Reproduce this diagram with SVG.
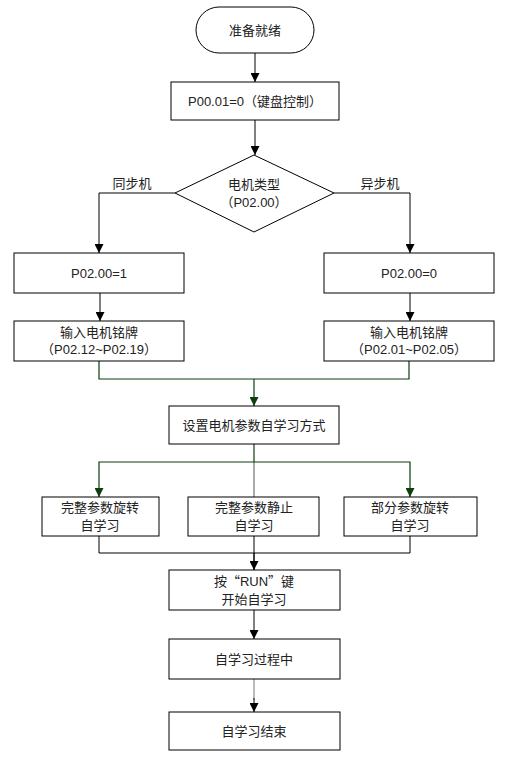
<svg xmlns="http://www.w3.org/2000/svg" width="508" height="769" viewBox="0 0 508 769">
<style>
.b{fill:#fff;stroke:#000;stroke-width:1}
.t{font-family:"Liberation Sans","Noto Sans CJK SC",sans-serif;font-size:13px;fill:#222;text-anchor:middle}
.c{font-family:"Noto Sans CJK SC",sans-serif}
.k{fill:none;stroke:#000;stroke-width:1}
.g{fill:none;stroke:#0e3d0e;stroke-width:1.2}
.y{fill:none;stroke:#aaa;stroke-width:2}
</style>
<defs>
<marker id="a" viewBox="0 0 10 10" refX="10" refY="5" markerWidth="9" markerHeight="9" markerUnits="userSpaceOnUse" orient="auto"><path d="M0,0L10,5L0,10z" fill="#000"/></marker>
<marker id="ag" viewBox="0 0 10 10" refX="10" refY="5" markerWidth="9" markerHeight="9" markerUnits="userSpaceOnUse" orient="auto"><path d="M0,0L10,5L0,10z" fill="#0e3d0e"/></marker>
</defs>
<rect width="508" height="769" fill="#fff"/>
<g id="connectors">
<path class="k" d="M255,53V82" marker-end="url(#a)"/>
<path class="k" d="M255,120V155" marker-end="url(#a)"/>
<path class="k" d="M175,193H99V253" marker-end="url(#a)"/>
<path class="k" d="M334,193H410V253" marker-end="url(#a)"/>
<path class="k" d="M100,293V321" marker-end="url(#a)"/>
<path class="k" d="M410,293V321" marker-end="url(#a)"/>
<path class="g" d="M99,361V379H409V361"/>
<path class="g" d="M254,379V406" marker-end="url(#ag)"/>
<path class="y" d="M254,462V497"/>
<path class="g" d="M254,444V462"/>
<path class="g" d="M254,462H99V497" marker-end="url(#ag)"/>
<path class="g" d="M254,462H410V497" marker-end="url(#ag)"/>
<path class="k" d="M99,536V553H410V536"/>
<path class="k" d="M254,536V553"/>
<path class="k" style="stroke-width:1.5" d="M254,553V570" marker-end="url(#a)"/>
<path class="k" d="M254,610V639" marker-end="url(#a)"/>
<path class="k" style="stroke:#777" d="M254,679V700"/>
<path class="k" d="M254,698V712" marker-end="url(#a)"/>
</g>
<g id="start"><rect class="b" x="196" y="7" width="118" height="46" rx="23"/><text class="t" x="255" y="35">准备就绪</text></g>
<g id="n1"><rect class="b" x="171" y="82" width="168" height="38"/><text class="t" x="255" y="106">P00.01=0（键盘控制）</text></g>
<g id="d1"><path class="b" d="M254,155L334,193L254,232L175,193z"/><text class="t" x="254" y="189">电机类型</text><text class="t" x="254" y="207">（P02.00）</text></g>
<g id="lbl1"><text class="t" x="132" y="188">同步机</text></g>
<g id="lbl2"><text class="t" x="380" y="188">异步机</text></g>
<g id="n2"><rect class="b" x="14" y="253" width="170" height="40"/><text class="t" x="99" y="278">P02.00=1</text></g>
<g id="n3"><rect class="b" x="324" y="253" width="170" height="40"/><text class="t" x="409" y="278">P02.00=0</text></g>
<g id="n4"><rect class="b" x="14" y="321" width="170" height="40"/><text class="t" x="99" y="337">输入电机铭牌</text><text class="t" x="99" y="354">（P02.12~P02.19）</text></g>
<g id="n5"><rect class="b" x="324" y="321" width="170" height="40"/><text class="t" x="409" y="337">输入电机铭牌</text><text class="t" x="409" y="354">（P02.01~P02.05）</text></g>
<g id="n6"><rect class="b" x="169" y="406" width="170" height="38"/><text class="t" x="254" y="430">设置电机参数自学习方式</text></g>
<g id="n7"><rect class="b" x="42" y="497" width="117" height="39"/><text class="t" x="100" y="512">完整参数旋转</text><text class="t" x="100" y="530">自学习</text></g>
<g id="n8"><rect class="b" x="188" y="497" width="131" height="39"/><text class="t" x="254" y="512">完整参数静止</text><text class="t" x="254" y="530">自学习</text></g>
<g id="n9"><rect class="b" x="344" y="497" width="133" height="39"/><text class="t" x="410" y="512">部分参数旋转</text><text class="t" x="410" y="530">自学习</text></g>
<g id="n10"><rect class="b" x="169" y="570" width="171" height="40"/><text class="t" x="254" y="586">按<tspan class="c">“</tspan>RUN<tspan class="c">”</tspan>键</text><text class="t" x="254" y="604">开始自学习</text></g>
<g id="n11"><rect class="b" x="169" y="639" width="171" height="40"/><text class="t" x="254" y="664">自学习过程中</text></g>
<g id="n12"><rect class="b" x="169" y="712" width="171" height="38"/><text class="t" x="254" y="736">自学习结束</text></g>
</svg>
